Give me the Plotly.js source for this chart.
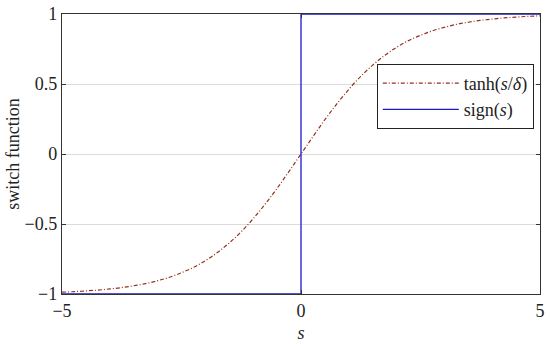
<!DOCTYPE html>
<html><head><meta charset="utf-8">
<script src="https://cdn.plot.ly/plotly-3.0.1.min.js"></script>
<style>html,body{margin:0;padding:0;background:#fff}#c{width:550px;height:344px}</style>
</head><body><div id="c"></div>
<script>
const sVals = [-5,-4.75,-4.5,-4.25,-4,-3.75,-3.5,-3.25,-3,-2.75,-2.5,-2.25,-2,-1.75,-1.5,-1.25,-1,-0.75,-0.5,-0.25,0,0.25,0.5,0.75,1,1.25,1.5,1.75,2,2.25,2.5,2.75,3,3.25,3.5,3.75,4,4.25,4.5,4.75,5];
const tanhVals = [-0.987,-0.983,-0.978,-0.972,-0.964,-0.954,-0.941,-0.926,-0.905,-0.880,-0.848,-0.810,-0.762,-0.704,-0.635,-0.555,-0.462,-0.358,-0.245,-0.124,0,0.124,0.245,0.358,0.462,0.555,0.635,0.704,0.762,0.810,0.848,0.880,0.905,0.926,0.941,0.954,0.964,0.972,0.978,0.983,0.987];
const signS = [-5,0,0,5];
const signVals = [-1,-1,1,1];
const xTicks = [-5,0,5];
const xTickText = ['\u22125','0','5'];
const yTicks = [-1,-0.5,0,0.5,1];
const yTickText = ['\u22121','\u22120.5','0','0.5','1'];

const font = '"Times New Roman", "Liberation Serif", "DejaVu Serif", serif';
const data = [
  {x:sVals, y:tanhVals, mode:'lines', name:'tanh(<i>s</i>/<i>δ</i>)', line:{color:'#96301e', width:1.2, dash:'4px,2px,1px,2px', shape:'spline'}},
  {x:signS, y:signVals, mode:'lines', name:'sign(<i>s</i>)', line:{color:'#1a1ad0', width:1.3}}
];
const layout = {
  width:550, height:344,
  margin:{l:62, r:10, t:14, b:50},
  paper_bgcolor:'#fff', plot_bgcolor:'#fff',
  font:{family:font, size:18, color:'#222'},
  showlegend:true,
  legend:{x:0.987, y:0.822, xanchor:'right', yanchor:'top', bordercolor:'#222', borderwidth:1, bgcolor:'#fff', font:{family:font, size:18}, tracegroupgap:0, itemwidth:76},
  xaxis:{range:[-5,5], tickvals:xTicks, ticktext:xTickText, ticks:'inside', ticklen:4, tickcolor:'#333', showgrid:false, zeroline:false, showline:true, linecolor:'#333', linewidth:1.2, mirror:'ticks',
    title:{text:'<i>s</i>', font:{family:font, size:18}, standoff:6}},
  yaxis:{range:[-1,1], tickvals:yTicks, ticktext:yTickText, ticks:'inside', ticklen:4, tickcolor:'#333', showgrid:true, gridcolor:'#dcdcdc', gridwidth:1, zeroline:false, showline:true, linecolor:'#333', linewidth:1.2, mirror:'ticks',
    title:{text:'switch function', font:{family:font, size:18}, standoff:0}}
};
Plotly.newPlot('c', data, layout, {displayModeBar:false, staticPlot:true});
</script></body></html>
